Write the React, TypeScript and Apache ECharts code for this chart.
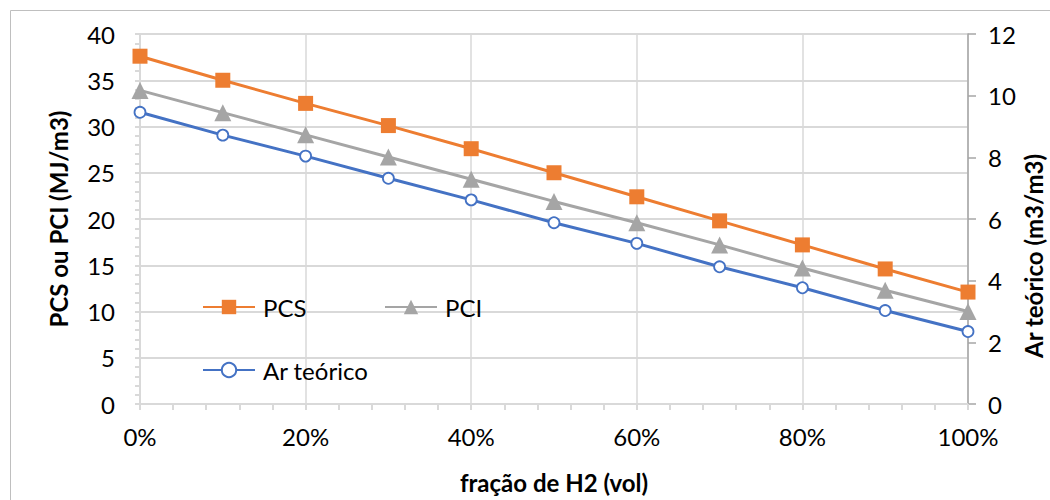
import React, { useEffect, useRef } from "react";
import * as echarts from "echarts";

const fractions = [0, 10, 20, 30, 40, 50, 60, 70, 80, 90, 100];
const pcs = [37.6, 35.0, 32.5, 30.1, 27.6, 25.0, 22.4, 19.8, 17.2, 14.6, 12.1];
const pci = [33.9, 31.5, 29.1, 26.7, 24.3, 21.9, 19.6, 17.2, 14.7, 12.3, 10.0];
const arTeorico = [9.46, 8.72, 8.04, 7.32, 6.62, 5.88, 5.21, 4.45, 3.77, 3.03, 2.35];

const FONT = "Lato";
const TICK_FS = 24;
const TITLE_FS = 24;

export default function App() {
  const ref = useRef<HTMLDivElement>(null);
  useEffect(() => {
    if (!ref.current) return;
    const chart = echarts.init(ref.current, undefined, { renderer: "svg" });
    const pairs = (arr: number[]) => fractions.map((f, i) => [f, arr[i]]);
    const legendBase = {
      itemWidth: 52,
      itemHeight: 18,
      itemGap: 0,
      padding: 0,
      textStyle: {
        fontFamily: FONT,
        fontSize: TICK_FS,
        lineHeight: 24,
        color: "#000",
        padding: [0, 0, 0, 3],
      },
      selectedMode: false,
    };
    chart.setOption({
      animation: false,
      backgroundColor: "#fff",
      textStyle: { fontFamily: FONT },
      grid: {
        left: 140,
        right: 82,
        top: 34,
        bottom: 96,
        containLabel: false,
        outerBoundsMode: "none",
      },
      graphic: [
        {
          type: "rect",
          shape: { x: 10.5, y: 10.5, width: 1100, height: 600 },
          style: { fill: "none", stroke: "#bfbfbf", lineWidth: 1 },
          silent: true,
        },
        {
          type: "text",
          x: 1033,
          y: 256,
          rotation: Math.PI / 2,
          style: {
            text: "Ar teórico (m3/m3)",
            fontFamily: FONT,
            fontSize: TITLE_FS,
            fontWeight: "bold",
            fill: "#000",
            align: "center",
            verticalAlign: "middle",
          },
          silent: true,
        },
      ],
      legend: [
        { ...legendBase, data: ["PCS"], left: 202, top: 295 },
        { ...legendBase, data: ["PCI"], left: 384, top: 295 },
        { ...legendBase, data: ["Ar teórico"], left: 202, top: 358 },
      ],
      xAxis: {
        type: "value",
        min: 0,
        max: 100,
        interval: 20,
        name: "fração de H2 (vol)",
        nameLocation: "middle",
        nameGap: 66,
        nameTextStyle: { fontFamily: FONT, fontSize: TITLE_FS, fontWeight: "bold", color: "#000" },
        axisLabel: { formatter: "{value}%", fontFamily: FONT, fontSize: TICK_FS, color: "#000", margin: 20 },
        axisLine: { lineStyle: { color: "#d9d9d9", width: 2 } },
        axisTick: { show: true, length: 6, lineStyle: { color: "#d9d9d9", width: 2 } },
        minorTick: { show: true, splitNumber: 5, length: 6, lineStyle: { color: "#d9d9d9", width: 2 } },
        splitLine: { show: true, lineStyle: { color: "#d9d9d9", width: 1.5 } },
      },
      yAxis: [
        {
          type: "value",
          min: 0,
          max: 40,
          interval: 5,
          position: "left",
          name: "PCS ou PCI (MJ/m3)",
          nameLocation: "middle",
          nameGap: 70,
          nameTextStyle: { fontFamily: FONT, fontSize: TITLE_FS, fontWeight: "bold", color: "#000" },
          axisLabel: { fontFamily: FONT, fontSize: TICK_FS, color: "#000", margin: 25 },
          axisLine: { show: true, lineStyle: { color: "#d9d9d9", width: 2 } },
          axisTick: { show: true, length: 5, lineStyle: { color: "#d9d9d9", width: 2 } },
          minorTick: { show: true, splitNumber: 5, length: 5, lineStyle: { color: "#d9d9d9", width: 2 } },
          splitLine: { show: true, lineStyle: { color: "#d9d9d9", width: 2 } },
        },
        {
          type: "value",
          min: 0,
          max: 12,
          interval: 2,
          position: "right",
          axisLabel: { fontFamily: FONT, fontSize: TICK_FS, color: "#000", margin: 20 },
          axisLine: { show: true, lineStyle: { color: "#a6a6a6", width: 1.5 } },
          axisTick: { show: true, length: 8, lineStyle: { color: "#a6a6a6", width: 1.5 } },
          splitLine: { show: false },
        },
      ],
      series: [
        {
          name: "PCS",
          type: "line",
          yAxisIndex: 0,
          data: pairs(pcs),
          symbol: "rect",
          symbolSize: 15,
          lineStyle: { color: "#ED7D31", width: 3 },
          itemStyle: { color: "#ED7D31", borderWidth: 0 },
        },
        {
          name: "PCI",
          type: "line",
          yAxisIndex: 0,
          data: pairs(pci),
          symbol: "triangle",
          symbolSize: 17,
          lineStyle: { color: "#A5A5A5", width: 3 },
          itemStyle: { color: "#A5A5A5", borderWidth: 0 },
        },
        {
          name: "Ar teórico",
          type: "line",
          yAxisIndex: 1,
          data: pairs(arTeorico),
          symbol: "circle",
          symbolSize: 11,
          lineStyle: { color: "#4472C4", width: 3 },
          itemStyle: { color: "#fff", borderColor: "#4472C4", borderWidth: 1.8 },
        },
      ],
    });
    return () => chart.dispose();
  }, []);
  return (
    <div
      ref={ref}
      style={{ position: "fixed", left: 0, top: 0, width: 1050, height: 500, background: "#fff" }}
    />
  );
}
